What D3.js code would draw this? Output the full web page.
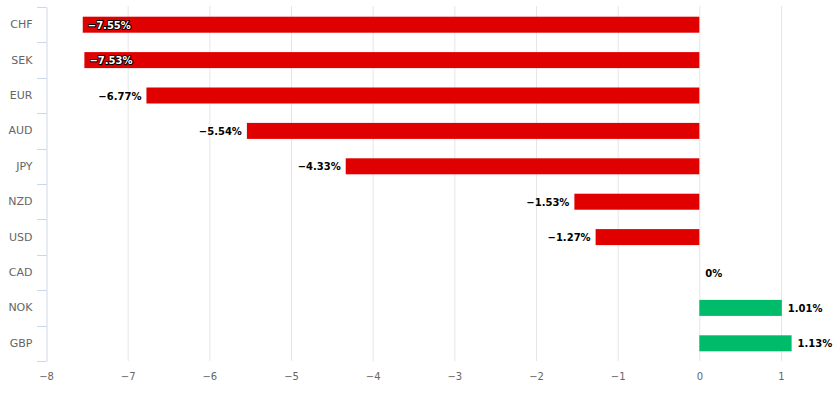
<!DOCTYPE html>
<html><head><meta charset="utf-8">
<script src="https://cdn.jsdelivr.net/npm/d3@7"></script>
<style>body{margin:0;background:#fff}svg{display:block}</style>
</head><body><svg id="c" width="840" height="394"></svg>
<script>
const categories = ["CHF","SEK","EUR","AUD","JPY","NZD","USD","CAD","NOK","GBP"];
const values = [-7.55,-7.53,-6.77,-5.54,-4.33,-1.53,-1.27,0,1.01,1.13];
const xTicks = [-8,-7,-6,-5,-4,-3,-2,-1,0,1];

(function(){
const svg = d3.select("#c");
const pL = 46, pR = 781, pT = 7, pB = 361;
const x = d3.scaleLinear().domain([-8,1]).range([pL,pR]);
const y = d3.scaleBand().domain(categories).range([pT,pB]).paddingInner(0).paddingOuter(0);
const fmt = v => (v<0?"\u2212":"") + Math.abs(v) + "%";
const font = "'DejaVu Sans', sans-serif";

// grid
svg.append("g").selectAll("line").data(xTicks.filter(t=>t!==-8)).join("line")
  .attr("x1",d=>x(d)+0.5).attr("x2",d=>x(d)+0.5).attr("y1",pT-1).attr("y2",pB)
  .attr("stroke","#e6e6e6").attr("stroke-width",1);

// x axis labels
const xa = svg.append("g").attr("transform",`translate(0,${pB})`)
  .call(d3.axisBottom(x).tickValues(xTicks).tickSize(0).tickPadding(12)
    .tickFormat(d=>(d<0?"\u2212":"")+Math.abs(d)));
xa.select(".domain").remove();
xa.selectAll("text").attr("fill","#666").style("font-family",font).style("font-size","10px");

// y axis
const ya = svg.append("g").attr("transform",`translate(${pL+0.5},0)`)
  .call(d3.axisLeft(y).tickSize(0).tickPadding(14));
ya.select(".domain").attr("stroke","#ccd6eb");
ya.selectAll("text").attr("fill","#666").style("font-family",font).style("font-size","11px");
const bounds = categories.map(c=>y(c)).concat([pB]);
svg.append("g").selectAll("line").data(bounds).join("line")
  .attr("x1",pL-9).attr("x2",pL+0.5).attr("y1",d=>Math.round(d)+0.5).attr("y2",d=>Math.round(d)+0.5)
  .attr("stroke","#ccd6eb");

// bars
const bh = 16;
svg.append("g").selectAll("rect").data(categories).join("rect")
  .attr("x",(c,i)=>Math.min(x(values[i]),x(0)))
  .attr("width",(c,i)=>Math.abs(x(values[i])-x(0)))
  .attr("y",c=>y(c)+y.bandwidth()/2-bh/2).attr("height",bh)
  .attr("fill",(c,i)=>values[i]<0?"#e00000":"#00bb6a");

// labels
const lg = svg.append("g");
categories.forEach((c,i)=>{
  const v = values[i];
  const cy = y(c)+y.bandwidth()/2+4;
  const t = lg.append("text").text(fmt(v)).attr("y",cy)
    .style("font-family",font).style("font-size","10px").style("font-weight","bold");
  if (v>=0) {
    t.attr("x",x(v)+6).attr("text-anchor","start").attr("fill","#000");
  } else {
    const w = t.node().getComputedTextLength();
    if (x(v)-5-w < pL) {
      t.attr("x",x(v)+5).attr("text-anchor","start").attr("fill","#fff")
       .attr("stroke","#000").attr("stroke-width",2).attr("paint-order","stroke").attr("stroke-linejoin","round");
    } else {
      t.attr("x",x(v)-5).attr("text-anchor","end").attr("fill","#000");
    }
  }
});
})();
</script></body></html>
